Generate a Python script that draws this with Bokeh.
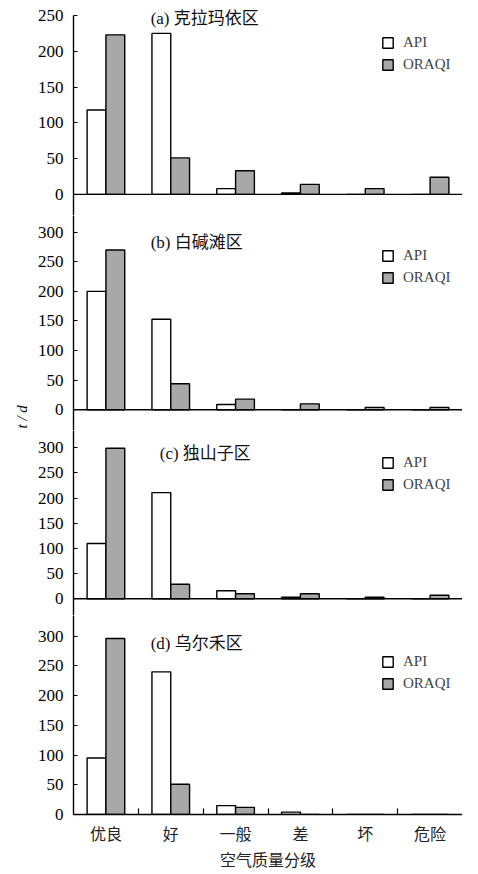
from bokeh.plotting import figure
from bokeh.layouts import column
from bokeh.models import (Range1d, FixedTicker, Span, Label, Legend, LegendItem, Title,
                          ColumnDataSource, CustomJSTickFormatter)
from bokeh.embed import file_html
from bokeh.resources import INLINE

# ---------------- data ----------------
categories = ["优良", "好", "一般", "差", "坏", "危险"]
titles = ["(a) 克拉玛依区", "(b) 白碱滩区", "(c) 独山子区", "(d) 乌尔禾区"]
api_a = [118, 225, 8, 2, 0, 0]
oraqi_a = [223, 51, 33, 14, 8, 24]
api_b = [200, 153, 9, 0, 0, 0]
oraqi_b = [270, 44, 18, 10, 4, 4]
api_c = [110, 211, 16, 3, 0, 0]
oraqi_c = [299, 29, 10, 10, 3, 7]
api_d = [95, 240, 15, 4, 0, 0]
oraqi_d = [296, 51, 12, 0, 0, 0]
y_ticks_a = [0, 50, 100, 150, 200, 250]
y_ticks_bcd = [0, 50, 100, 150, 200, 250, 300]
x_label = "空气质量分级"
y_label = "t / d"
series_names = ["API", "ORAQI"]

# ---------------- style ----------------
SERIF = "'Liberation Serif', 'Noto Sans CJK SC'"
GRAY = "#a8a8a8"
W = 462
BORDER_LEFT = 73
BAR_W = 0.29

panels = [
    dict(api=api_a, oraqi=oraqi_a, title=titles[0], ticks=y_ticks_a, yr=(-29.5, 264.0),
         bounds=(-29.5, 250), h=215, top=5, bottom=0, title_xy=(1.19, 246.5), legend_y=142),
    dict(api=api_b, oraqi=oraqi_b, title=titles[1], ticks=y_ticks_bcd, yr=(-35.0, 328.2),
         bounds=None, h=215, top=0, bottom=0, title_xy=(1.19, 283.0), legend_y=144),
    dict(api=api_c, oraqi=oraqi_c, title=titles[2], ticks=y_ticks_bcd, yr=(-33.2, 334.4),
         bounds=None, h=185, top=0, bottom=0, title_xy=(1.33, 288.7), legend_y=122),
    dict(api=api_d, oraqi=oraqi_d, title=titles[3], ticks=y_ticks_bcd, yr=(0, 334.8),
         bounds=None, h=258, top=0, bottom=59, title_xy=(1.19, 287.7), legend_y=122),
]

centers = [i + 0.5 for i in range(len(categories))]
figs = []
for k, pd_ in enumerate(panels):
    last = (k == len(panels) - 1)
    p = figure(width=W, height=pd_["h"], output_backend="svg", toolbar_location=None,
               x_range=Range1d(0, len(categories)), y_range=Range1d(*pd_["yr"]),
               x_axis_location="below" if last else None,
               min_border_left=BORDER_LEFT, min_border_right=0,
               min_border_top=pd_["top"], min_border_bottom=pd_["bottom"])
    p.outline_line_color = None
    p.xgrid.visible = False
    p.ygrid.visible = False
    p.background_fill_color = "white"
    p.border_fill_color = "white"

    src = ColumnDataSource(dict(
        xa=[c - BAR_W / 2 for c in centers],
        xo=[c + BAR_W / 2 for c in centers],
        api=pd_["api"], oraqi=pd_["oraqi"]))

    if not last:
        p.add_layout(Span(location=0, dimension="width", line_color="black", line_width=1.4))

    r_api = p.vbar(x="xa", top="api", bottom=0, width=BAR_W, source=src,
                   fill_color="white", line_color="black", line_width=1.4)
    r_or = p.vbar(x="xo", top="oraqi", bottom=0, width=BAR_W, source=src,
                  fill_color=GRAY, line_color="black", line_width=1.4)

    # y axis
    ya = p.yaxis[0]
    ya.ticker = FixedTicker(ticks=pd_["ticks"], minor_ticks=[])
    if pd_["bounds"] is not None:
        ya.bounds = pd_["bounds"]
    ya.major_tick_in = 4
    ya.major_tick_out = 0
    ya.minor_tick_line_color = None
    ya.axis_line_width = 1.4
    ya.major_tick_line_width = 1.2
    ya.major_label_standoff = 10
    ya.major_label_text_font = SERIF
    ya.major_label_text_font_size = "17px"
    ya.major_label_text_color = "black"

    if last:
        xa = p.xaxis[0]
        xa.ticker = FixedTicker(ticks=centers, minor_ticks=[1, 2, 3, 4, 5])
        xa.formatter = CustomJSTickFormatter(args=dict(cats=categories),
                                             code="const i = Math.floor(tick); return (i >= 0 && i < cats.length) ? cats[i] : '';")
        xa.major_tick_line_color = None
        xa.minor_tick_in = 6
        xa.minor_tick_out = 0
        xa.minor_tick_line_width = 1.2
        xa.axis_line_width = 1.4
        xa.major_label_standoff = 5
        xa.major_label_text_font = SERIF
        xa.major_label_text_font_size = "16px"
        xa.major_label_text_color = "#222222"
        xa.axis_label = x_label
        xa.axis_label_text_font = SERIF
        xa.axis_label_text_font_size = "16px"
        xa.axis_label_text_font_style = "normal"
        xa.axis_label_text_color = "#222222"
        xa.axis_label_standoff = 6

    # panel title
    tx, ty = pd_["title_xy"]
    p.add_layout(Label(x=tx, y=ty, text=pd_["title"], text_font=SERIF,
                       text_font_size="17px", text_baseline="middle", text_align="left",
                       text_color="#111111"))

    # legend
    leg = Legend(items=[LegendItem(label=series_names[0], renderers=[r_api]),
                        LegendItem(label=series_names[1], renderers=[r_or])],
                 location=(308, pd_["legend_y"]), padding=0, margin=0, spacing=5,
                 glyph_width=13, glyph_height=13, label_height=17, label_standoff=9,
                 label_text_font=SERIF, label_text_font_size="15px",
                 border_line_color=None, background_fill_alpha=0)
    p.add_layout(leg)

    if k == 1:
        p.add_layout(Title(text=y_label, align="left", offset=2, text_font=SERIF,
                           text_font_style="italic", text_font_size="15px",
                           text_color="black"), "left")
    figs.append(p)

layout = column(*figs, spacing=0)
open("out.html", "w").write(file_html(layout, INLINE))
